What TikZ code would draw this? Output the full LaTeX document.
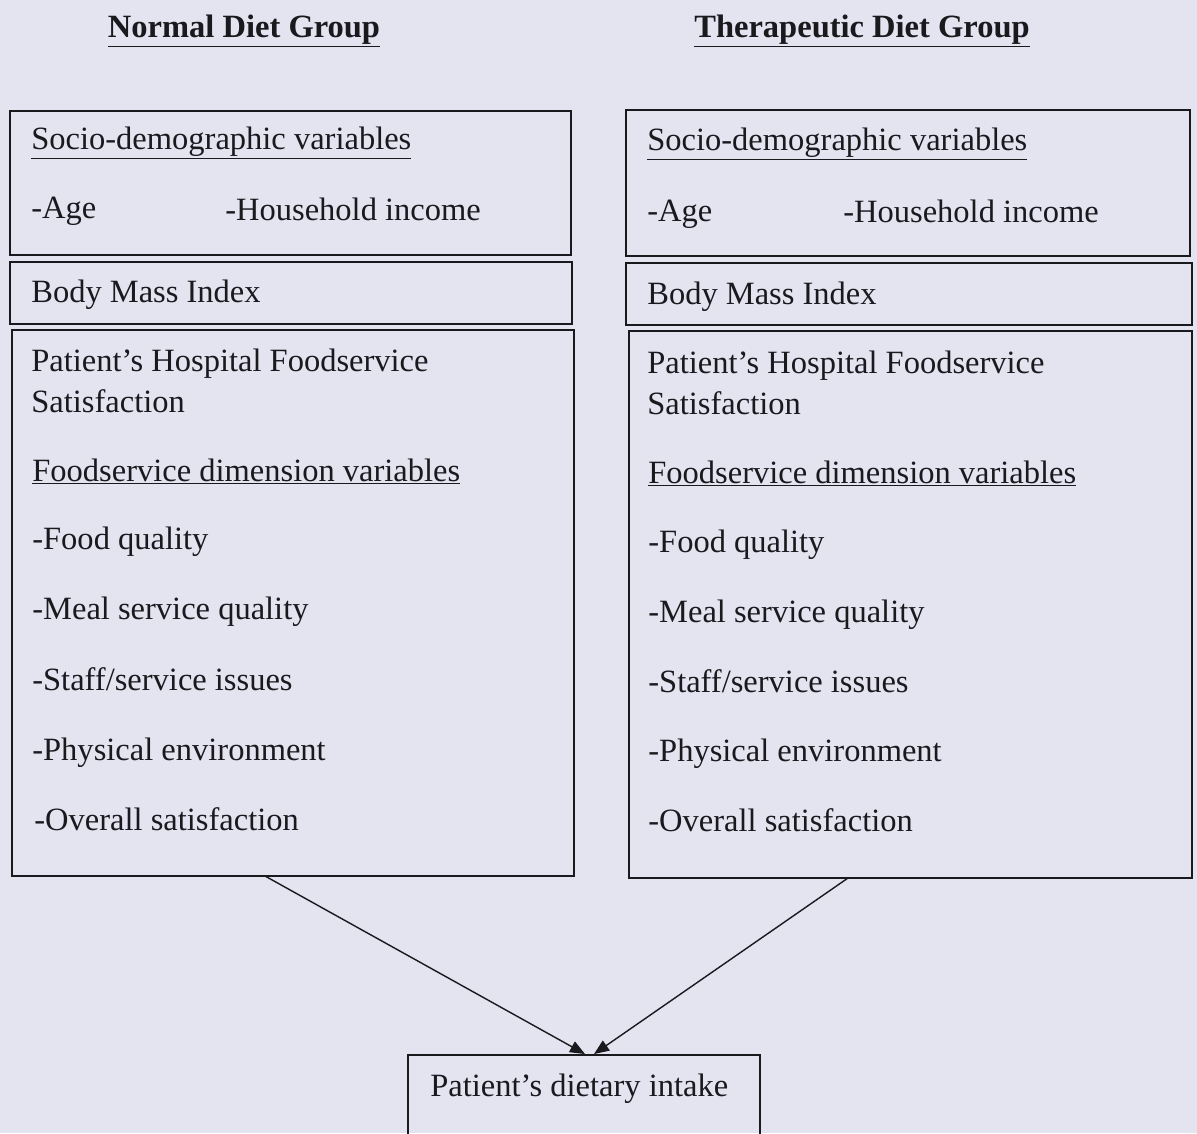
\documentclass[tikz,border=0pt]{standalone}
\usepackage{fontspec}
\setmainfont{Liberation Serif}
\usetikzlibrary{arrows.meta,fit}

\definecolor{paper}{RGB}{228,227,240}
\definecolor{ink}{RGB}{25,25,30}

\tikzset{
  box/.style={draw=ink, line width=1.1pt, inner sep=0pt},
  item/.style={anchor=base west, inner sep=0pt, text=ink, font=\fontsize{18.5}{22}\selectfont},
  head/.style={anchor=base, inner sep=0pt, text=ink, font=\fontsize{18.5}{22}\selectfont\bfseries},
  link/.style={draw=ink, line width=0.8pt, -{Triangle[length=0.3cm,width=0.24cm]}}
}

\begin{document}
\begin{tikzpicture}[x=0.02cm,y=-0.02cm]

% page
\clip (0,0) rectangle (1197,1133);
\fill[paper] (0,0) rectangle (1197,1133);

% ---- Group headings ----
\node[head] (lhead) at (244,37) {\underline{Normal Diet Group}};
\node[head] (rhead) at (862,37) {\underline{Therapeutic Diet Group}};

% ---- Normal diet: boxes ----
\node[box, fit={(10,111) (571,255)}] (lsocio) {};
\node[box, fit={(10,262) (572,324)}] (lbmi) {};
\node[box, fit={(12,330) (574,876)}] (lsat) {};

% ---- Normal diet: texts ----
\node[item] (lsociot) at (31,149) {\underline{Socio-demographic variables}};
\node[item] (lage) at (31,218) {-Age};
\node[item] (linc) at (225,220) {-Household income};
\node[item] (lbmit) at (31,302) {Body Mass Index};
\node[item] (lsatt) at (31,371) {Patient’s Hospital Foodservice};
\node[item] (lsatt2) at (31,412) {Satisfaction};
\node[item] (ldim) at (32,481) {\underline{Foodservice dimension variables}};
\node[item] (lfood) at (32,549) {-Food quality};
\node[item] (lmeal) at (32,619) {-Meal service quality};
\node[item] (lstaff) at (32,690) {-Staff/service issues};
\node[item] (lphys) at (32,760) {-Physical environment};
\node[item] (lall) at (34,830) {-Overall satisfaction};

% ---- Therapeutic diet: boxes ----
\node[box, fit={(626,110) (1190,256)}] (rsocio) {};
\node[box, fit={(626,263) (1192,325)}] (rbmi) {};
\node[box, fit={(629,331) (1192,878)}] (rsat) {};

% ---- Therapeutic diet: texts ----
\node[item] (rsociot) at (647,150) {\underline{Socio-demographic variables}};
\node[item] (rage) at (647,221) {-Age};
\node[item] (rinc) at (843,222) {-Household income};
\node[item] (rbmit) at (647,304) {Body Mass Index};
\node[item] (rsatt) at (647,373) {Patient’s Hospital Foodservice};
\node[item] (rsatt2) at (647,414) {Satisfaction};
\node[item] (rdim) at (648,483) {\underline{Foodservice dimension variables}};
\node[item] (rfood) at (648,552) {-Food quality};
\node[item] (rmeal) at (648,622) {-Meal service quality};
\node[item] (rstaff) at (648,692) {-Staff/service issues};
\node[item] (rphys) at (648,761) {-Physical environment};
\node[item] (rall) at (648,831) {-Overall satisfaction};

% ---- Outcome ----
\node[box, fit={(408,1055) (760,1170)}] (intake) {};
\node[item] (intaket) at (430,1096) {Patient’s dietary intake};

% ---- Links ----
\coordinate (lout) at (265,876);
\coordinate (rout) at (848,878);
\draw[link] (lout) -- ([xshift=0.02cm]intake.north);
\draw[link] (rout) -- ([xshift=0.2cm]intake.north);

\end{tikzpicture}
\end{document}
